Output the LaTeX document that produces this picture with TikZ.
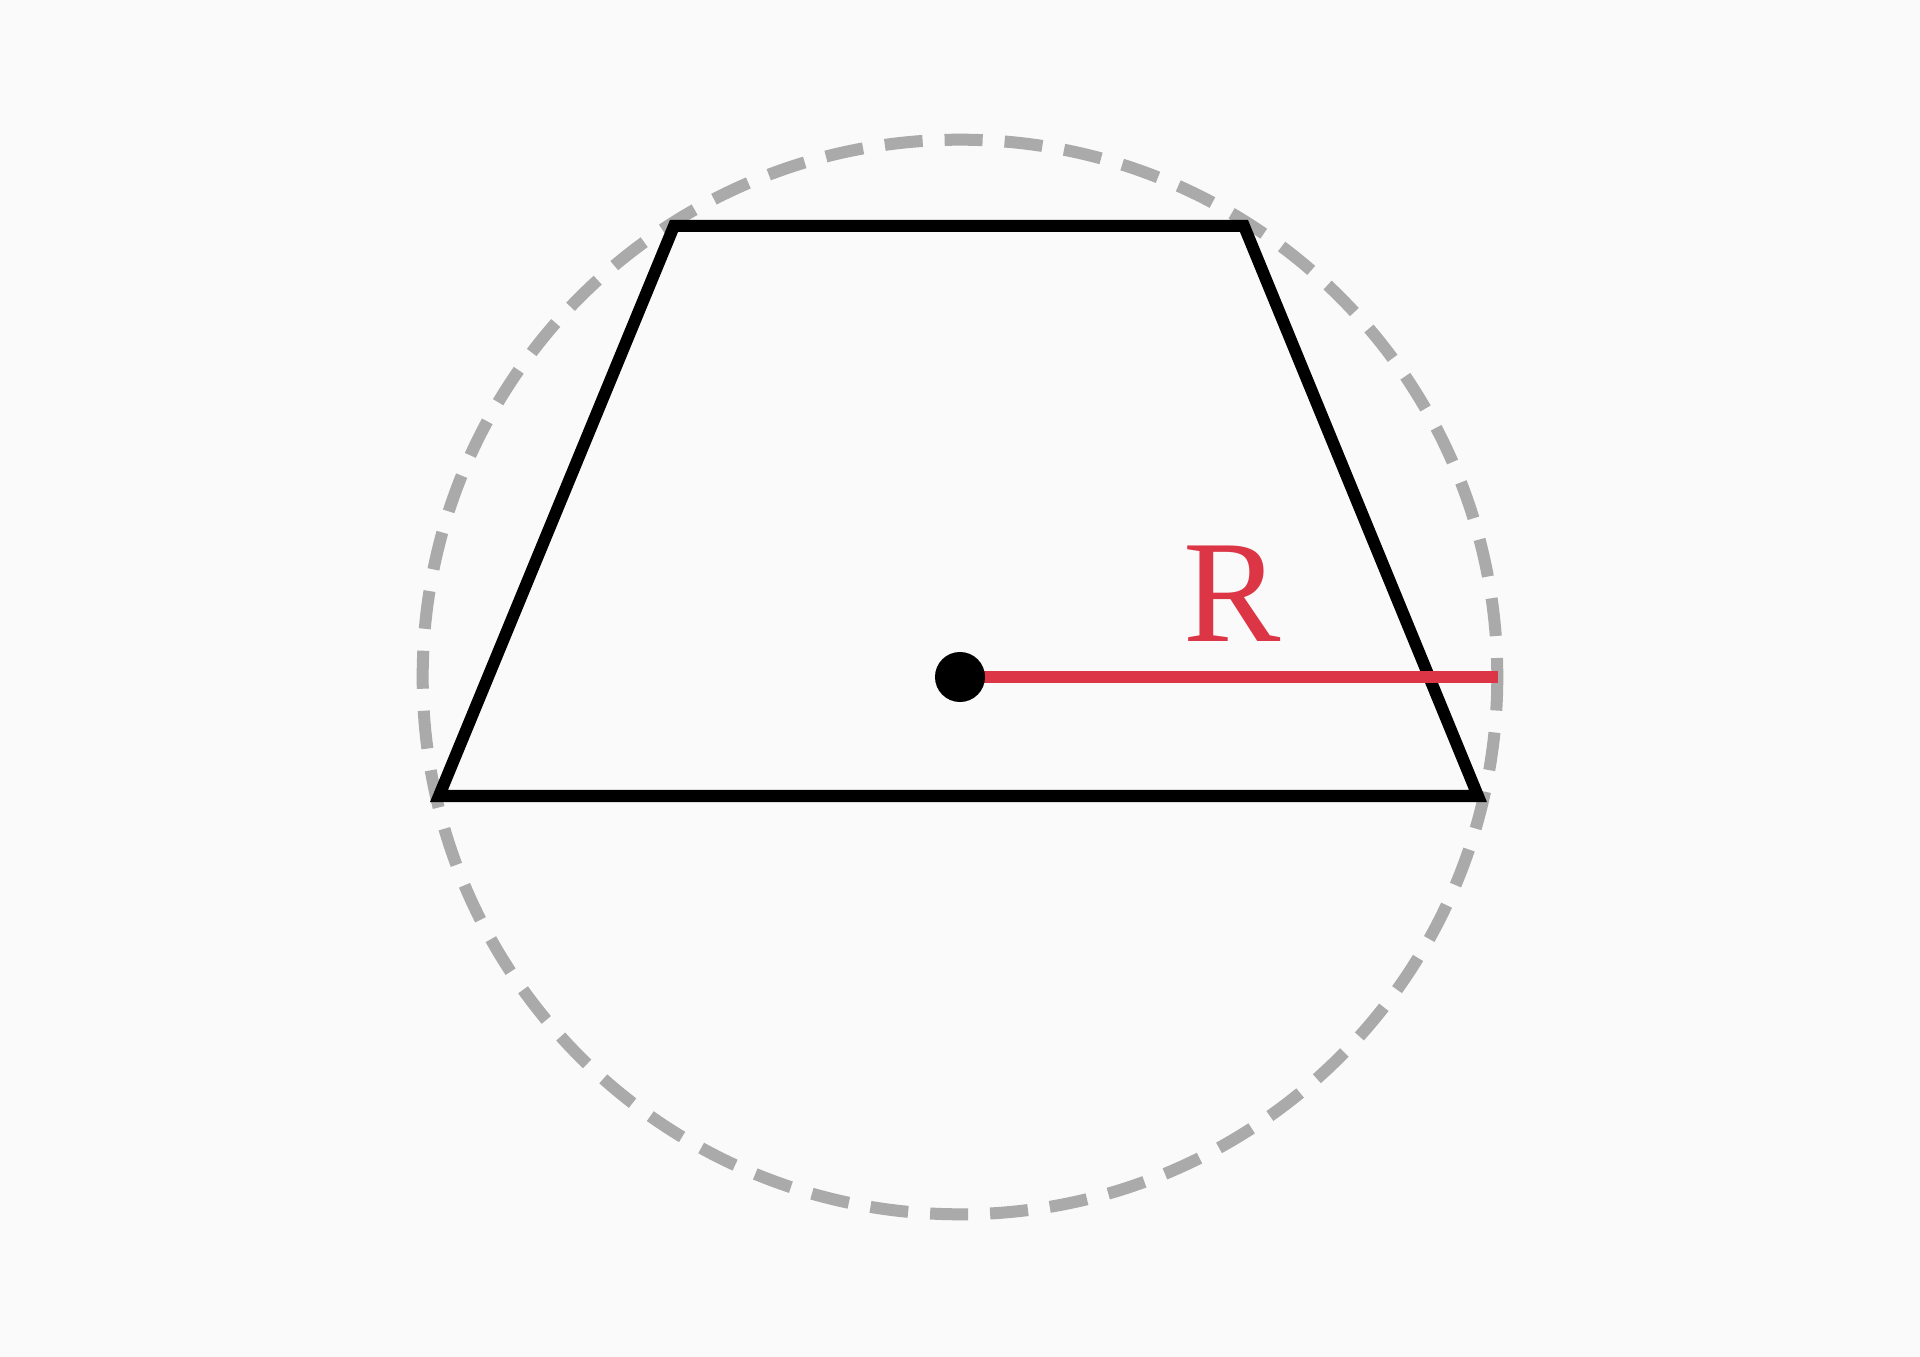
\documentclass[tikz,border=0pt]{standalone}
\usepackage{fontspec}
\setmainfont{Liberation Serif}
\usepackage{tikz}
\usetikzlibrary{positioning, calc}
\definecolor{PaperWhite}{HTML}{FAFAFA}
\definecolor{GuideGray}{HTML}{AAAAAA}
\definecolor{RadiusRed}{HTML}{DC3545}
\tikzset{
  circumcircle/.style={draw=GuideGray, line width=0.12cm, dash pattern=on 0.38cm off 0.22cm, dash phase=0.19cm},
  trapline/.style={draw=black, line width=0.12cm, miter limit=10},
  radiusline/.style={draw=RadiusRed, line width=0.11cm},
  centerdot/.style={circle, fill=black, inner sep=0pt, minimum size=0.5cm},
  radiuslabel/.style={text=RadiusRed, font=\fontsize{41.5}{48}\selectfont, inner sep=0pt}
}

\begin{document}
\begin{tikzpicture}[x=0.01cm, y=-0.01cm]
  \fill[PaperWhite] (-960,-677) rectangle (960,680);
  \useasboundingbox (-960,-677) rectangle (960,680);

  \coordinate (o) at (0,0);
  \coordinate (tl) at (-286,-451);
  \coordinate (tr) at (284,-451);
  \coordinate (br) at (518,119);
  \coordinate (bl) at (-521,119);
  \coordinate (rend) at (538,0);

  \draw[circumcircle] (o) circle[radius=5.37cm];
  \draw[trapline] (tl) -- (tr) -- (br) -- (bl) -- cycle;
  \draw[radiusline] (o) -- (rend);
  \node[centerdot] (dot) at (o) {};

  \node[radiuslabel, anchor=base] (rlabel) at (272,-35) {R};
\end{tikzpicture}
\end{document}
